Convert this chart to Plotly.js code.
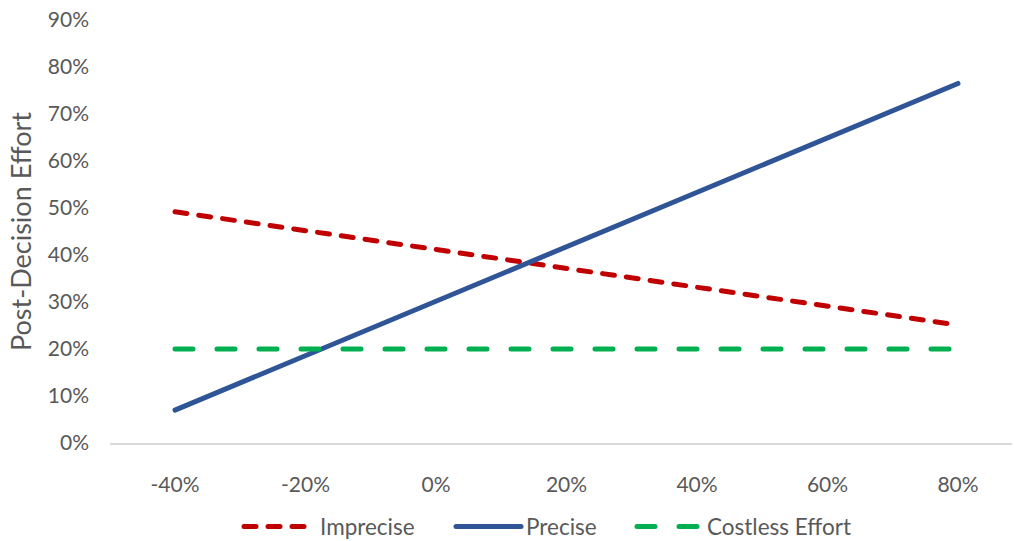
<!DOCTYPE html>
<html>
<head>
<meta charset="utf-8">
<script src="https://cdn.plot.ly/plotly-3.0.1.min.js"></script>
<style>
html,body{margin:0;padding:0;background:#fff;}
#chart{width:1014px;height:541px;}
.js-line{stroke-linecap:round;}
.legendlines path{stroke-linecap:round;}
.legendtext{transform:translateX(6px);}
g.legend, g.legend *{clip-path:none !important;}
</style>
</head>
<body>
<div id="chart"></div>
<script>
// Data (fractions)
const priceChange = [-0.40, -0.20, 0.00, 0.20, 0.40, 0.60, 0.80];
const xTickLabels = ["-40%", "-20%", "0%", "20%", "40%", "60%", "80%"];
const imprecise   = [0.492, 0.452, 0.411, 0.371, 0.331, 0.291, 0.251];
const precise     = [0.070, 0.186, 0.302, 0.418, 0.533, 0.649, 0.765];
const costless    = [0.200, 0.200, 0.200, 0.200, 0.200, 0.200, 0.200];
const seriesNames = ["Imprecise", "Precise", "Costless Effort"];

const FONT = "Lato, 'Open Sans', sans-serif";
const TXT = "#595959";

const traces = [
  {x: priceChange, y: imprecise, name: seriesNames[0], type: "scatter", mode: "lines", legend: "legend",
   line: {color: "#C00000", width: 5, dash: "12px,12px"}},
  {x: priceChange, y: precise, name: seriesNames[1], type: "scatter", mode: "lines", legend: "legend2",
   line: {color: "#2F5597", width: 5}},
  {x: priceChange, y: costless, name: seriesNames[2], type: "scatter", mode: "lines", legend: "legend3",
   line: {color: "#00B050", width: 5, dash: "18px,24px"}}
];

function leg(px) {
  return {orientation: "h", xref: "container", yref: "container",
          x: px / 1014, xanchor: "left", y: 0.026, yanchor: "middle",
          font: {family: FONT, color: TXT, size: 22.5}, itemwidth: 65,
          bgcolor: "rgba(0,0,0,0)"};
}

const layout = {
  width: 1014, height: 541,
  margin: {l: 110, r: 2, t: 20, b: 98},
  paper_bgcolor: "#fff", plot_bgcolor: "#fff",
  font: {family: FONT, color: TXT, size: 21},
  showlegend: true,
  legend: leg(239),
  legend2: leg(451),
  legend3: leg(632),
  xaxis: {range: [-0.4996, 0.8828], tickvals: priceChange, ticktext: xTickLabels,
          showgrid: false, zeroline: false, showline: true, linecolor: "#D9D9D9", linewidth: 1.5,
          ticks: "", ticklabelstandoff: 22, tickfont: {family: FONT, size: 21, color: TXT},
          automargin: false, fixedrange: true},
  yaxis: {range: [0, 0.9], dtick: 0.1, tick0: 0, tickformat: ".0%",
          showgrid: false, zeroline: false, showline: false,
          ticks: "", ticklabelstandoff: 20, tickfont: {family: FONT, size: 21, color: TXT},
          title: {text: "Post-Decision Effort", font: {family: FONT, size: 27, color: TXT}, standoff: 8},
          automargin: false, fixedrange: true}
};

Plotly.newPlot("chart", traces, layout, {displayModeBar: false, staticPlot: true});
</script>
</body>
</html>
